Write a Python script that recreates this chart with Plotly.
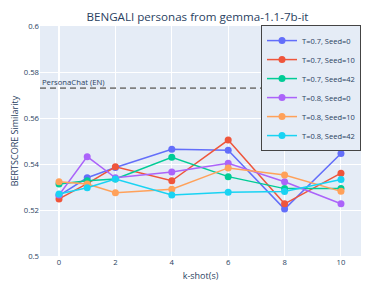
import plotly.graph_objects as go

k_shots = [0, 1, 2, 4, 6, 8, 10]
series_names = ["T=0.7, Seed=0", "T=0.7, Seed=10", "T=0.7, Seed=42",
                "T=0.8, Seed=0", "T=0.8, Seed=10", "T=0.8, Seed=42"]
t07_s0 = [0.5262, 0.5340, 0.5385, 0.5464, 0.5460, 0.5204, 0.5446]
t07_s10 = [0.5248, 0.5315, 0.5388, 0.5327, 0.5504, 0.5227, 0.5360]
t07_s42 = [0.5313, 0.5327, 0.5335, 0.5429, 0.5345, 0.5293, 0.5294]
t08_s0 = [0.5265, 0.5432, 0.5340, 0.5365, 0.5403, 0.5323, 0.5227]
t08_s10 = [0.5323, 0.5313, 0.5275, 0.5290, 0.5383, 0.5352, 0.5281]
t08_s42 = [0.5270, 0.5297, 0.5335, 0.5265, 0.5277, 0.5280, 0.5333]
series_values = [t07_s0, t07_s10, t07_s42, t08_s0, t08_s10, t08_s42]
baseline_value = 0.573
baseline_label = "PersonaChat (EN)"
y_ticks = [0.5, 0.52, 0.54, 0.56, 0.58, 0.6]
y_ticktext = ["0.5", "0.52", "0.54", "0.56", "0.58", "0.6"]
x_ticks = [0, 2, 4, 6, 8, 10]

W, H = 379, 283

fig = go.Figure()
for name, vals in zip(series_names, series_values):
    fig.add_trace(go.Scatter(x=k_shots, y=vals, mode="lines+markers", name=name,
                             marker=dict(size=7), line=dict(width=1.5)))

fig.add_shape(type="line", xref="paper", x0=0, x1=1, yref="y",
              y0=baseline_value, y1=baseline_value,
              line=dict(color="gray", width=1.8, dash="6px,4px"))
fig.add_annotation(xref="paper", x=0, yref="y", y=baseline_value,
                   text=baseline_label, showarrow=False,
                   xanchor="left", yanchor="bottom", yshift=-1,
                   font=dict(size=7.7, color="#2a3f5f"))

fig.update_layout(
    template="plotly",
    width=W, height=H,
    margin=dict(l=32, r=26, t=18, b=35),
    font=dict(family="Open Sans", size=7.7),
    title=dict(text="BENGALI personas from gemma-1.1-7b-it", x=0.5, xanchor="center",
               y=1 - 8.5 / H, yanchor="middle", yref="container",
               font=dict(size=11.6)),
    xaxis=dict(title=dict(text="k-shot(s)", font=dict(size=9), standoff=6),
               tickvals=x_ticks, range=[-0.674, 10.71],
               tickfont=dict(size=7.7), automargin=False),
    yaxis=dict(title=dict(text="BERTSCORE Similarity", font=dict(size=9), standoff=5),
               tickvals=y_ticks, ticktext=y_ticktext, range=[0.5, 0.6],
               tickfont=dict(size=7.7), automargin=False),
    legend=dict(x=1.0, y=1.004, xanchor="right", yanchor="top",
                bgcolor="#E5ECF6", bordercolor="#444", borderwidth=1,
                font=dict(size=7.5)),
)

fig.write_html("out.html")
